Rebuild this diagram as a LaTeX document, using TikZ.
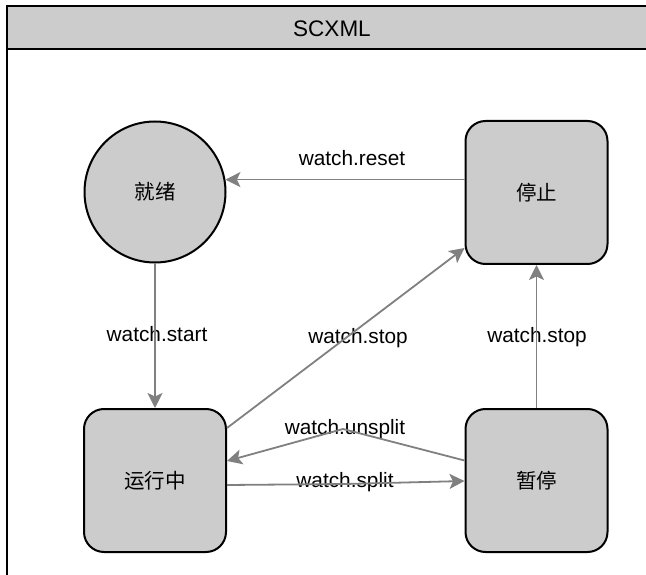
\documentclass[tikz,border=0pt]{standalone}
\usepackage{fontspec}
\setmainfont{Liberation Sans}
\newfontfamily\cjk{Noto Sans CJK SC}
\usetikzlibrary{arrows.meta}
\definecolor{stfill}{RGB}{204,204,204}
\definecolor{tgray}{RGB}{128,128,128}
\begin{document}
\begin{tikzpicture}[x=1pt,y=-1pt,
  state/.style={draw=black, line width=2pt, fill=stfill, font=\cjk\fontsize{20.5}{24}\selectfont},
  roundstate/.style={state, circle, minimum size=141pt, inner sep=0pt},
  boxstate/.style={state, rectangle, rounded corners=20pt, minimum width=142pt, minimum height=143pt, inner sep=0pt},
  trans/.style={draw=tgray, line width=1.8pt, -{Stealth[length=15pt,width=15pt,inset=3.5pt]}},
  evt/.style={font=\fontsize{20.8}{24}\selectfont, inner sep=0pt}
]
\useasboundingbox (0,0) rectangle (646,575);
\clip (0,0) rectangle (646,575);

% frame with title band
\fill[stfill] (7,6) rectangle (660,49);
\draw[line width=2pt] (7,6) -- (660,6);
\draw[line width=2.5pt] (7,49) -- (660,49);
\draw[line width=1.5pt] (7,5) -- (7,600);
\node[font=\fontsize{22.5}{26}\selectfont, inner sep=0pt] (title) at (332,29) {SCXML};

% states
\node[roundstate] (ready) at (155,192) {就绪};
\node[boxstate] (stop) at (536.5,192.5) {停止};
\node[boxstate] (run) at (155,480.5) {运行中};
\node[boxstate] (pause) at (536.5,480.5) {暂停};

% event labels
\node[evt] (lreset) at (352,158) {watch.reset};
\node[evt] (lstart) at (157,334) {watch.start};
\node[evt] (lstopa) at (358,338) {watch.stop};
\node[evt] (lstopb) at (537,337) {watch.stop};
\node[evt] (lunsplit) at (345,429) {watch.unsplit};
\node[evt] (lsplit) at (345,482) {watch.split};

% bend points of the two lower transitions
\coordinate (wunsplit) at (343,429);
\coordinate (wsplit) at (345,484);

% transitions
\draw[trans] (stop.west |- ready.10.5) -- (ready.10.5);
\draw[trans] (ready.south) -- (run.north);
\draw[trans] ([yshift=-20pt]run.north east) -- ([yshift=17pt]stop.south west);
\draw[trans] (pause.north) -- (stop.south);
\draw[trans] ([yshift=20pt]pause.west) -- (wunsplit) -- ([yshift=19.5pt]run.east);
\draw[trans] ([yshift=-4.5pt]run.east) -- (wsplit) -- ([yshift=-0.5pt]pause.west);
\end{tikzpicture}
\end{document}
